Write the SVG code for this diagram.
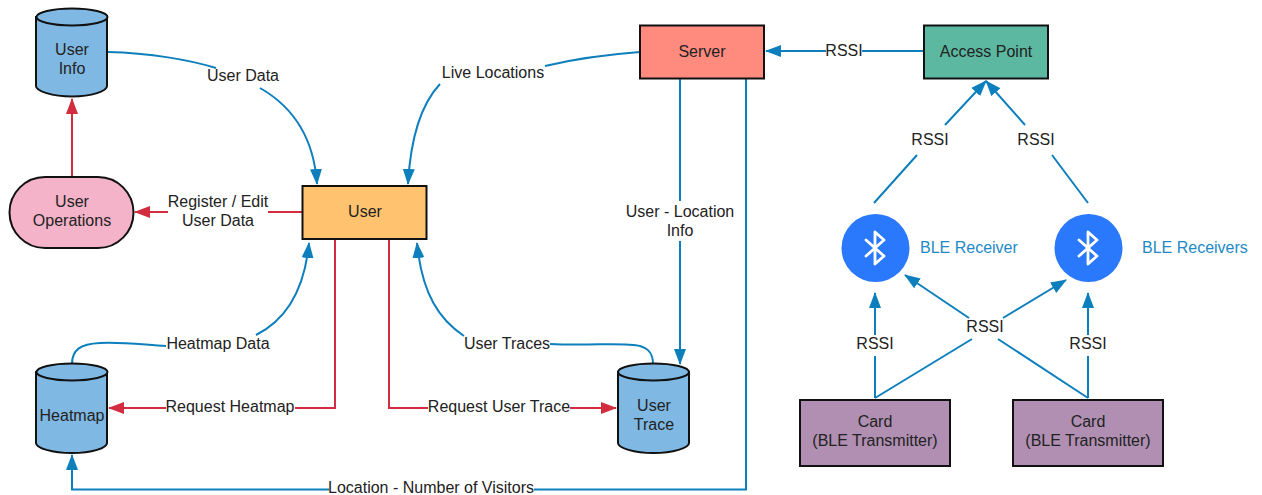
<svg xmlns="http://www.w3.org/2000/svg" width="1262" height="495" viewBox="0 0 1262 495">
<style>
text{font-family:"Liberation Sans",Arial,sans-serif;font-size:16px;fill:#222;text-anchor:middle}
.n{stroke:#111;stroke-width:2}
.b{fill:none;stroke:#0e7fbd;stroke-width:2}
.r{fill:none;stroke:#d12d3f;stroke-width:2}
.ble{font-size:16px;fill:#2389c6;text-anchor:start}
.ic{fill:none;stroke:#fff;stroke-width:2.800;stroke-linejoin:round;stroke-linecap:round}
</style>
<defs>
<marker id="ab" markerUnits="userSpaceOnUse" markerWidth="16" markerHeight="12" refX="15" refY="6" orient="auto"><path d="M0 0L16 6L0 12Z" fill="#0e7fbd"/></marker>
<marker id="ar" markerUnits="userSpaceOnUse" markerWidth="16" markerHeight="12" refX="15" refY="6" orient="auto"><path d="M0 0L16 6L0 12Z" fill="#d12d3f"/></marker>
</defs>
<rect width="1262" height="495" fill="#fff"/>
<g id="connectors">
<path class="b" marker-end="url(#ab)" d="M108 52C150 53 190 60 216 68M260 88C295 108 314 140 317 184"/>
<path class="r" marker-end="url(#ar)" d="M72 176V99"/>
<path class="r" marker-end="url(#ar)" d="M302 212H268M168 212H135"/>
<path class="b" marker-end="url(#ab)" d="M640 52C600 55 570 60 545 66M440 84C425 100 411 130 408 184"/>
<path class="b" d="M72 364C72 350 80 344 100 343C125 342 145 345 166 346"/>
<path class="b" marker-end="url(#ab)" d="M256 335C282 322 304 295 309 243"/>
<path class="r" marker-end="url(#ar)" d="M335 240V408H295M166 408H109"/>
<path class="r" marker-end="url(#ar)" d="M389 240V408H428M570 408H616"/>
<path class="b" marker-end="url(#ab)" d="M464 336C440 320 422 295 417 243"/>
<path class="b" d="M550 344C590 346 625 342 640 346C650 349 653 355 653 364"/>
<path class="b" marker-end="url(#ab)" d="M680 79V201M680 241V364"/>
<path class="b" marker-end="url(#ab)" d="M746 79V489.500H534M329 489.500H72V455"/>
<path class="b" marker-end="url(#ab)" d="M924 51H862M826 51H766"/>
<path class="b" marker-end="url(#ab)" d="M874 203L917 155M945 125L986 81"/>
<path class="b" marker-end="url(#ab)" d="M1088 203L1052 155M1025 125L986 81"/>
<path class="b" marker-end="url(#ab)" d="M875 398V356M875 335V293"/>
<path class="b" marker-end="url(#ab)" d="M1088 398V356M1088 335V293"/>
<path class="b" marker-end="url(#ab)" d="M875 398L972 339M969 318L905 275"/>
<path class="b" marker-end="url(#ab)" d="M1088 398L998 339M1003 318L1066 280"/>
</g>
<g id="user-info"><path class="n" fill="#7fb8e3" d="M36 17V86C36 91 52 96.500 72 96.500S107 91 107 86V17Z"/><ellipse class="n" fill="#7fb8e3" cx="72" cy="17" rx="35.500" ry="8.500"/><text x="72" y="55">User</text><text x="72" y="74">Info</text></g>
<g id="user-operations"><rect class="n" fill="#f4b3c8" x="9.500" y="177" width="124" height="71" rx="35.500"/><text x="72" y="207">User</text><text x="72" y="226">Operations</text></g>
<g id="user"><rect class="n" fill="#ffc26e" x="302.500" y="186" width="124" height="53"/><text x="365" y="217">User</text></g>
<g id="server"><rect class="n" fill="#ff8a7e" x="640" y="25.500" width="124" height="53"/><text x="702" y="57">Server</text></g>
<g id="access-point"><rect class="n" fill="#5cb8a0" x="924" y="25.500" width="124" height="53"/><text x="986" y="57">Access Point</text></g>
<g id="heatmap"><path class="n" fill="#7fb8e3" d="M36 372V443C36 448 52 453 72 453S107 448 107 443V372Z"/><ellipse class="n" fill="#7fb8e3" cx="72" cy="372" rx="35.500" ry="8.500"/><text x="72" y="421">Heatmap</text></g>
<g id="user-trace"><path class="n" fill="#7fb8e3" d="M618 372V443C618 448 634 453 653.500 453S689 448 689 443V372Z"/><ellipse class="n" fill="#7fb8e3" cx="653.500" cy="372" rx="35.500" ry="8.500"/><text x="654" y="411">User</text><text x="654" y="430">Trace</text></g>
<g id="ble-receiver-1"><circle cx="875.500" cy="248" r="34" fill="#2a78fb"/><path class="ic" d="M866 240L884 256L875 264V232L884 240L866 256"/><text class="ble" x="920" y="253">BLE Receiver</text></g>
<g id="ble-receiver-2"><circle cx="1088.500" cy="248" r="34" fill="#2a78fb"/><path class="ic" d="M1079 240L1097 256L1088 264V232L1097 240L1079 256"/><text class="ble" x="1142" y="253">BLE Receivers</text></g>
<g id="card-1"><rect class="n" fill="#b08fb2" x="800" y="400" width="150" height="66"/><text x="875" y="427">Card</text><text x="875" y="446">(BLE Transmitter)</text></g>
<g id="card-2"><rect class="n" fill="#b08fb2" x="1013" y="400" width="150" height="66"/><text x="1088" y="427">Card</text><text x="1088" y="446">(BLE Transmitter)</text></g>
<g id="labels">
<text x="243" y="81">User Data</text>
<text x="218" y="207">Register / Edit</text><text x="218" y="226">User Data</text>
<text x="493" y="78">Live Locations</text>
<text x="218" y="349">Heatmap Data</text>
<text x="230" y="412">Request Heatmap</text>
<text x="507" y="349">User Traces</text>
<text x="499" y="412">Request User Trace</text>
<text x="680" y="217">User - Location</text><text x="680" y="236">Info</text>
<text x="431" y="493">Location - Number of Visitors</text>
<text x="844" y="56">RSSI</text>
<text x="930" y="145">RSSI</text>
<text x="1036" y="145">RSSI</text>
<text x="875" y="349">RSSI</text>
<text x="1088" y="349">RSSI</text>
<text x="985" y="332">RSSI</text>
</g>
</svg>
